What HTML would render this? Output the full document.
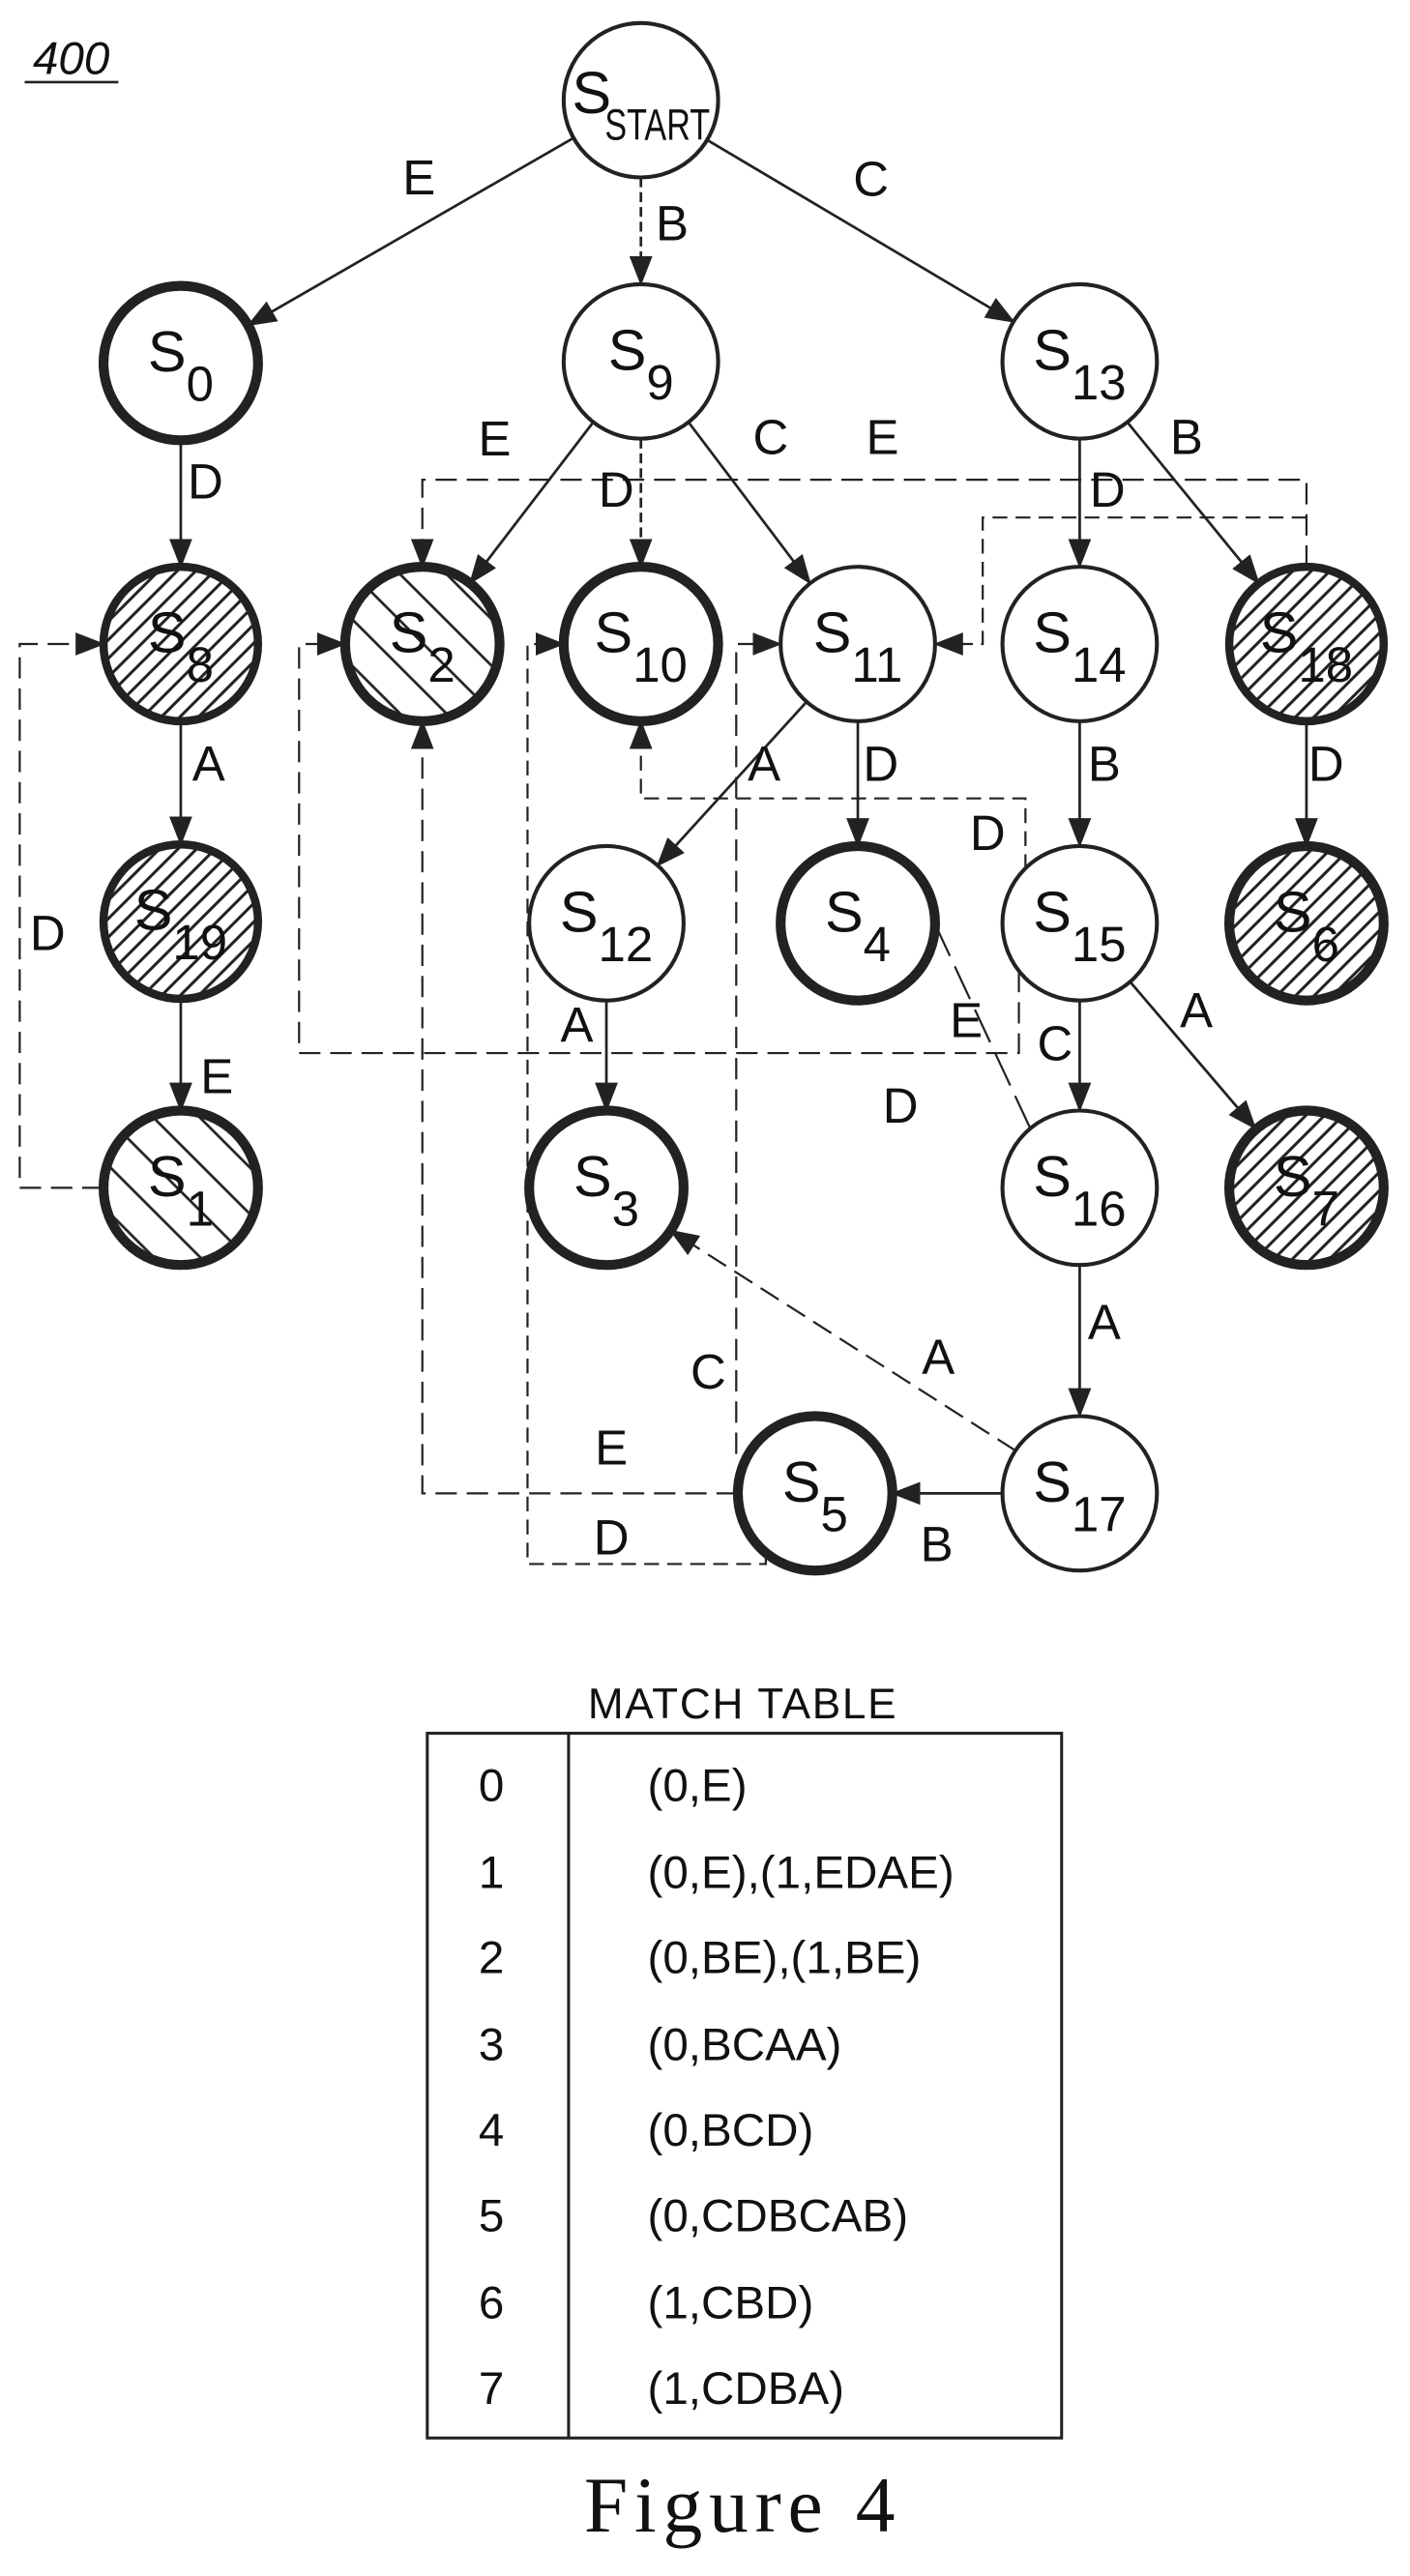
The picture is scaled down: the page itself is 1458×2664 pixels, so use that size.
<!DOCTYPE html>
<html><head><meta charset="utf-8"><style>
html,body{margin:0;padding:0;background:#fff;}
svg{display:block;}
text{font-family:"Liberation Sans",sans-serif;fill:#111;}
</style></head><body>
<svg width="1458" height="2664" viewBox="0 0 858 1568" preserveAspectRatio="none" xmlns="http://www.w3.org/2000/svg">
<defs>
<marker id="ar" markerUnits="userSpaceOnUse" markerWidth="18" markerHeight="14" refX="17" refY="7" orient="auto">
<path d="M0,0 L18,7 L0,14 Z" fill="#222"/>
</marker>
<pattern id="dense" patternUnits="userSpaceOnUse" width="8" height="8" patternTransform="rotate(45)">
<line x1="2" y1="0" x2="2" y2="8" stroke="#222" stroke-width="1.8"/>
</pattern>
<pattern id="sparse" patternUnits="userSpaceOnUse" width="20" height="20" patternTransform="rotate(-45)">
<line x1="5" y1="0" x2="5" y2="20" stroke="#222" stroke-width="1.6"/>
</pattern>
</defs>

<!-- 400 -->
<text x="20" y="45" font-size="28" font-style="italic">400</text>
<line x1="15" y1="50" x2="72" y2="50" stroke="#222" stroke-width="1.5"/>

<g stroke="#222" stroke-width="1.6" fill="none">
<line x1="349" y1="84" x2="151" y2="198" marker-end="url(#ar)"/>
<line x1="390" y1="108" x2="390" y2="173" marker-end="url(#ar)" stroke-dasharray="6 3"/>
<line x1="430" y1="85" x2="617" y2="196" marker-end="url(#ar)"/>
<line x1="110" y1="268" x2="110" y2="345" marker-end="url(#ar)"/>
<line x1="361" y1="257" x2="286" y2="355" marker-end="url(#ar)"/>
<line x1="390" y1="267" x2="390" y2="345" marker-end="url(#ar)" stroke-dasharray="6 3"/>
<line x1="419" y1="257" x2="493" y2="355" marker-end="url(#ar)"/>
<line x1="657" y1="267" x2="657" y2="345" marker-end="url(#ar)"/>
<line x1="686" y1="257" x2="766" y2="355" marker-end="url(#ar)"/>
<line x1="110" y1="438" x2="110" y2="514" marker-end="url(#ar)"/>
<line x1="110" y1="608" x2="110" y2="676" marker-end="url(#ar)"/>
<line x1="491" y1="427" x2="400" y2="527" marker-end="url(#ar)"/>
<line x1="522" y1="439" x2="522" y2="515" marker-end="url(#ar)"/>
<line x1="657" y1="439" x2="657" y2="515" marker-end="url(#ar)"/>
<line x1="795" y1="439" x2="795" y2="515" marker-end="url(#ar)"/>
<line x1="369" y1="609" x2="369" y2="676" marker-end="url(#ar)"/>
<line x1="657" y1="609" x2="657" y2="676" marker-end="url(#ar)"/>
<line x1="688" y1="598" x2="764" y2="687" marker-end="url(#ar)"/>
<line x1="657" y1="770" x2="657" y2="862" marker-end="url(#ar)"/>
<line x1="610" y1="909" x2="543" y2="909" marker-end="url(#ar)"/>
</g>
<g stroke="#222" stroke-width="1.3" fill="none" stroke-dasharray="13 6">
<line x1="627" y1="687" x2="552" y2="526" marker-end="url(#ar)" stroke-dasharray="22 7"/>
<line x1="618" y1="883" x2="408" y2="749" marker-end="url(#ar)"/>
<polyline points="63,723 12,723 12,392 63,392" marker-end="url(#ar)"/>
<polyline points="795,345 795,292 257,292 257,345" marker-end="url(#ar)"/>
<polyline points="795,315 598,315 598,392 569,392" marker-end="url(#ar)" stroke-dasharray="9 5"/>
<polyline points="624,529 624,486 390,486 390,439" marker-end="url(#ar)" stroke-dasharray="9 5"/>
<polyline points="620,591 620,641 182,641 182,392 210,392" marker-end="url(#ar)"/>
<polyline points="449,909 257,909 257,439" marker-end="url(#ar)"/>
<polyline points="448,885 448,392 475,392" marker-end="url(#ar)"/>
<polyline points="466,947 466,952 321,952 321,392 343,392" marker-end="url(#ar)" stroke-dasharray="9 5"/>
</g>

<g stroke="#222" fill="#fff">
<circle cx="390" cy="61" r="47" stroke-width="2.4"/>
<circle cx="110" cy="221" r="47" stroke-width="6"/>
<circle cx="390" cy="220" r="47" stroke-width="2.4"/>
<circle cx="657" cy="220" r="47" stroke-width="2.4"/>
<circle cx="110" cy="392" r="47" stroke-width="5" fill="url(#dense)"/>
<circle cx="257" cy="392" r="47" stroke-width="6" fill="url(#sparse)"/>
<circle cx="390" cy="392" r="47" stroke-width="6"/>
<circle cx="522" cy="392" r="47" stroke-width="2.4"/>
<circle cx="657" cy="392" r="47" stroke-width="2.4"/>
<circle cx="795" cy="392" r="47" stroke-width="5" fill="url(#dense)"/>
<circle cx="110" cy="561" r="47" stroke-width="5" fill="url(#dense)"/>
<circle cx="369" cy="562" r="47" stroke-width="2.4"/>
<circle cx="522" cy="562" r="47" stroke-width="6"/>
<circle cx="657" cy="562" r="47" stroke-width="2.4"/>
<circle cx="795" cy="562" r="47" stroke-width="6" fill="url(#dense)"/>
<circle cx="110" cy="723" r="47" stroke-width="6" fill="url(#sparse)"/>
<circle cx="369" cy="723" r="47" stroke-width="6"/>
<circle cx="657" cy="723" r="47" stroke-width="2.4"/>
<circle cx="795" cy="723" r="47" stroke-width="6" fill="url(#dense)"/>
<circle cx="496" cy="909" r="47" stroke-width="6"/>
<circle cx="657" cy="909" r="47" stroke-width="2.4"/>
</g>

<text x="348" y="69" font-size="36">S</text>
<text x="368" y="85" font-size="27" textLength="64" lengthAdjust="spacingAndGlyphs">START</text>
<g font-size="35" text-anchor="middle">
<text x="110" y="226">S<tspan font-size="30" dy="18">0</tspan></text>
<text x="390" y="225">S<tspan font-size="30" dy="18">9</tspan></text>
<text x="657" y="225">S<tspan font-size="30" dy="18">13</tspan></text>
<text x="110" y="397">S<tspan font-size="30" dy="18">8</tspan></text>
<text x="257" y="397">S<tspan font-size="30" dy="18">2</tspan></text>
<text x="390" y="397">S<tspan font-size="30" dy="18">10</tspan></text>
<text x="522" y="397">S<tspan font-size="30" dy="18">11</tspan></text>
<text x="657" y="397">S<tspan font-size="30" dy="18">14</tspan></text>
<text x="795" y="397">S<tspan font-size="30" dy="18">18</tspan></text>
<text x="110" y="566">S<tspan font-size="30" dy="18">19</tspan></text>
<text x="369" y="567">S<tspan font-size="30" dy="18">12</tspan></text>
<text x="522" y="567">S<tspan font-size="30" dy="18">4</tspan></text>
<text x="657" y="567">S<tspan font-size="30" dy="18">15</tspan></text>
<text x="795" y="567">S<tspan font-size="30" dy="18">6</tspan></text>
<text x="110" y="728">S<tspan font-size="30" dy="18">1</tspan></text>
<text x="369" y="728">S<tspan font-size="30" dy="18">3</tspan></text>
<text x="657" y="728">S<tspan font-size="30" dy="18">16</tspan></text>
<text x="795" y="728">S<tspan font-size="30" dy="18">7</tspan></text>
<text x="496" y="914">S<tspan font-size="30" dy="18">5</tspan></text>
<text x="657" y="914">S<tspan font-size="30" dy="18">17</tspan></text>
</g>

<g font-size="30" text-anchor="middle" dominant-baseline="central">
<text x="255" y="108">E</text><text x="409" y="136">B</text><text x="530" y="109">C</text>
<text x="125" y="293">D</text><text x="301" y="267">E</text><text x="375" y="298">D</text>
<text x="469" y="266">C</text><text x="537" y="266">E</text><text x="722" y="266">B</text>
<text x="674" y="298">D</text>
<text x="127" y="465">A</text><text x="29" y="568">D</text><text x="132" y="655">E</text>
<text x="465" y="465">A</text><text x="536" y="465">D</text><text x="672" y="465">B</text><text x="807" y="465">D</text>
<text x="601" y="507">D</text><text x="588" y="621">E</text><text x="351" y="624">A</text>
<text x="642" y="635">C</text><text x="728" y="615">A</text><text x="548" y="673">D</text>
<text x="672" y="805">A</text><text x="571" y="826">A</text><text x="431" y="835">C</text>
<text x="372" y="881">E</text><text x="372" y="936">D</text><text x="570" y="940">B</text>
</g>

<text x="452" y="1046" font-size="26" text-anchor="middle" letter-spacing="1">MATCH  TABLE</text>
<rect x="260" y="1055" width="386" height="429" fill="none" stroke="#222" stroke-width="1.8"/>
<line x1="346" y1="1055" x2="346" y2="1484" stroke="#222" stroke-width="1.8"/>
<g font-size="28" dominant-baseline="central">
<text x="299" y="1087" text-anchor="middle">0</text><text x="394" y="1087">(0,E)</text>
<text x="299" y="1140" text-anchor="middle">1</text><text x="394" y="1140">(0,E),(1,EDAE)</text>
<text x="299" y="1192" text-anchor="middle">2</text><text x="394" y="1192">(0,BE),(1,BE)</text>
<text x="299" y="1245" text-anchor="middle">3</text><text x="394" y="1245">(0,BCAA)</text>
<text x="299" y="1297" text-anchor="middle">4</text><text x="394" y="1297">(0,BCD)</text>
<text x="299" y="1349" text-anchor="middle">5</text><text x="394" y="1349">(0,CDBCAB)</text>
<text x="299" y="1402" text-anchor="middle">6</text><text x="394" y="1402">(1,CBD)</text>
<text x="299" y="1454" text-anchor="middle">7</text><text x="394" y="1454">(1,CDBA)</text>
</g>
<text x="452" y="1541" font-size="48" text-anchor="middle" letter-spacing="4" style="font-family:'Liberation Serif',serif">Figure  4</text>
</svg>
</body></html>
